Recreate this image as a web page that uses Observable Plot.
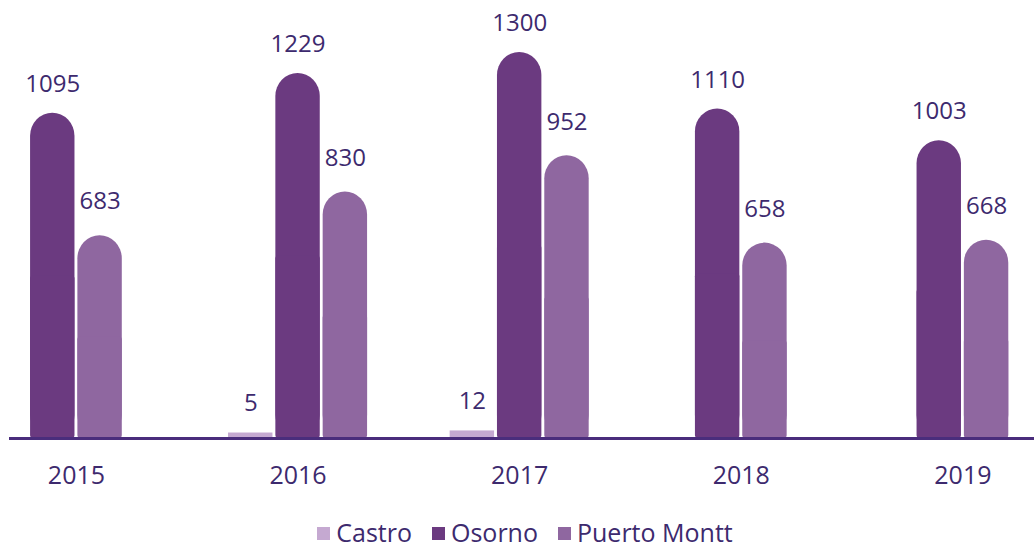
<!DOCTYPE html>
<html>
<head>
<meta charset="utf-8">
<script src="https://cdn.jsdelivr.net/npm/d3@7"></script>
<script src="https://cdn.jsdelivr.net/npm/@observablehq/plot@0.6"></script>
<style>
  html, body { margin: 0; padding: 0; background: #fff; }
  #chart { width: 1034px; height: 505px; }
  #chart svg { display: block; }
  .legend { box-sizing: border-box; display: flex; justify-content: center; align-items: center; height: 43px;
    padding-top: 11px; padding-left: 16px; font-family: 'Open Sans', sans-serif; font-size: 25px;
    line-height: 1; color: #3d2a6e; }
  .legend .item { display: flex; align-items: center; margin: 0 10px; }
  .legend .sw { width: 13px; height: 13px; margin-right: 6px; margin-top: 2px; }
</style>
</head>
<body>
<div id="chart"></div>
<script>
const years = [2015, 2016, 2017, 2018, 2019];
const seriesNames = ["Castro", "Osorno", "Puerto Montt"];
const castro = [null, 5, 12, null, null];
const osorno = [1095, 1229, 1300, 1110, 1003];
const puertoMontt = [683, 830, 952, 658, 668];
const seriesColors = ["#c5a9d1", "#6b3a80", "#8f67a0"];
const textColor = "#3d2a6e";

const seriesValues = [castro, osorno, puertoMontt];
const step = 0.2135;   // slot width in year units
const hw = 0.1038;     // half bar width in year units
const rows = [];
years.forEach((year, i) => {
  const present = seriesNames
    .map((s, j) => ({series: s, value: seriesValues[j][i]}))
    .filter(d => d.value != null);
  const n = present.length;
  present.forEach((d, k) => {
    rows.push({year, series: d.series, value: d.value, x: year + (k - (n - 1) / 2) * step});
  });
});

const big = rows.filter(d => d.series !== "Castro");
const small = rows.filter(d => d.series === "Castro");

const chart = Plot.plot({
  width: 1034,
  height: 505,
  marginLeft: 9,
  marginRight: 0,
  marginTop: 52,
  marginBottom: 67,
  style: {fontFamily: "'Open Sans', sans-serif", fontSize: "24px", color: textColor, background: "#fff"},
  x: {type: "linear", domain: [2015 - 0.302, 2019 + 0.323]},
  y: {domain: [0, 1300], axis: null},
  color: {domain: seriesNames, range: seriesColors},
  marks: [
    Plot.rect(big, {x1: d => d.x - hw, x2: d => d.x + hw, y1: 0, y2: "value", fill: "series",
      rx: 23, insetLeft: 0.8, insetRight: 0.8}),
    Plot.rect(big, {x1: d => d.x - hw, x2: d => d.x + hw, y1: 0, y2: d => d.value / 2, fill: "series",
      rx: 3, insetLeft: 0.8, insetRight: 0.8}),
    Plot.rect(small, {x1: d => d.x - hw, x2: d => d.x + hw, y1: 0, y2: "value", fill: "series",
      insetLeft: 0.8, insetRight: 0.8, insetTop: -4}),
    Plot.ruleY([0], {stroke: "#4a2d7c", strokeWidth: 3}),
    Plot.text(rows.filter(d => d.series === "Osorno"), {x: "x", y: "value", text: d => String(d.value),
      dy: -29, lineAnchor: "middle", fill: textColor, fontSize: 24}),
    Plot.text(rows.filter(d => d.series === "Puerto Montt"), {x: "x", y: "value", text: d => String(d.value),
      dy: -34, lineAnchor: "middle", fill: textColor, fontSize: 24}),
    Plot.text(small, {x: "x", y: "value", text: d => String(d.value),
      dy: -34, lineAnchor: "middle", fill: textColor, fontSize: 24}),
    Plot.axisX(years, {tickSize: 0, tickPadding: 28, tickFormat: d => String(d), fontSize: 25, fill: textColor, label: null})
  ]
});
document.getElementById("chart").appendChild(chart);

const legend = document.createElement("div");
legend.className = "legend";
seriesNames.forEach((s, i) => {
  const item = document.createElement("div");
  item.className = "item";
  const sw = document.createElement("span");
  sw.className = "sw";
  sw.style.background = seriesColors[i];
  const lab = document.createElement("span");
  lab.textContent = s;
  item.appendChild(sw);
  item.appendChild(lab);
  legend.appendChild(item);
});
document.body.appendChild(legend);
</script>
</body>
</html>
